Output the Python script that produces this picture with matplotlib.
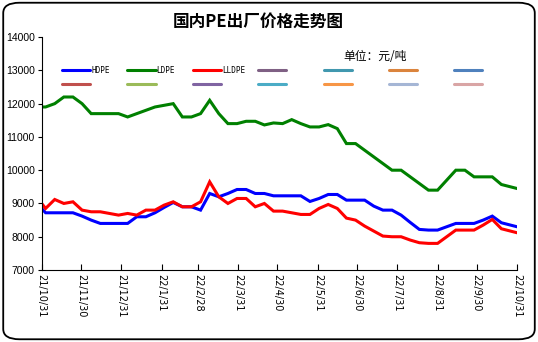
import pandas as pd
import numpy as np
import matplotlib
matplotlib.use('Agg')
import matplotlib.pyplot as plt
from matplotlib.patches import FancyBboxPatch

plt.rcParams['font.family'] = ['Noto Sans CJK SC', 'DejaVu Sans']

# price dates (roughly weekly)
dates = ['2021-10-31', '2021-11-03', '2021-11-10', '2021-11-17', '2021-11-24',
         '2021-12-01', '2021-12-08', '2021-12-15', '2021-12-22', '2021-12-29',
         '2022-01-05', '2022-01-12', '2022-01-19', '2022-01-26',
         '2022-02-02', '2022-02-09', '2022-02-16', '2022-02-23',
         '2022-03-02', '2022-03-09', '2022-03-16', '2022-03-23', '2022-03-30',
         '2022-04-06', '2022-04-13', '2022-04-20', '2022-04-27',
         '2022-05-04', '2022-05-11', '2022-05-18', '2022-05-25',
         '2022-06-01', '2022-06-08', '2022-06-15', '2022-06-22', '2022-06-29',
         '2022-07-06', '2022-07-13', '2022-07-20', '2022-07-27',
         '2022-08-03', '2022-08-10', '2022-08-17', '2022-08-24', '2022-08-31',
         '2022-09-07', '2022-09-14', '2022-09-21', '2022-09-28',
         '2022-10-05', '2022-10-12', '2022-10-19', '2022-10-26', '2022-10-31']

hdpe = [8850, 8720, 8720, 8720, 8720, 8620, 8500, 8400, 8400, 8400,
        8400, 8600, 8600, 8720, 8880, 9030, 8900, 8900, 8800, 9300,
        9200, 9300, 9420, 9420, 9300, 9300, 9230, 9230, 9230, 9230,
        9060, 9150, 9270, 9270, 9100, 9100, 9100, 8920, 8800, 8800,
        8650, 8430, 8220, 8200, 8200, 8300, 8400, 8400, 8400, 8500,
        8620, 8420, 8350, 8300]

ldpe = [11900, 11900, 12000, 12200, 12200, 12000, 11700, 11700, 11700, 11700,
        11600, 11700, 11800, 11900, 11950, 12000, 11600, 11600, 11700, 12100,
        11700, 11400, 11400, 11470, 11470, 11360, 11420, 11400, 11520, 11400,
        11300, 11300, 11370, 11250, 10800, 10800, 10600, 10400, 10200, 10000,
        10000, 9800, 9600, 9400, 9400, 9700, 10000, 10000, 9800, 9800,
        9800, 9570, 9500, 9450]

lldpe = [9000, 8850, 9120, 9000, 9050, 8800, 8750, 8750, 8700, 8650,
         8700, 8650, 8800, 8800, 8950, 9050, 8900, 8900, 9050, 9650,
         9200, 9000, 9150, 9150, 8900, 9000, 8770, 8770, 8720, 8670,
         8670, 8850, 8970, 8850, 8560, 8500, 8320, 8170, 8020, 8000,
         8000, 7900, 7820, 7800, 7800, 8000, 8200, 8200, 8200, 8350,
         8520, 8240, 8170, 8120]

tick_labels = ['21/10/31', '21/11/30', '21/12/31', '22/1/31', '22/2/28', '22/3/31',
               '22/4/30', '22/5/31', '22/6/30', '22/7/31', '22/8/31', '22/9/30', '22/10/31']

series_names = ['HDPE', 'LDPE', 'LLDPE']
series_colors = ['#0000FF', '#008000', '#FF0000']
# empty legend entries left over in the source sheet
extra_row1 = ['#7F6084', '#4198AF', '#DB843D', '#4F81BD']
extra_row2 = ['#C0504D', '#9BBB59', '#8064A2', '#4BACC6', '#F79646', '#A5B6D5', '#D9A5A5']

x = pd.to_datetime(dates)
ticks = pd.to_datetime(['20' + t for t in tick_labels], format='%Y/%m/%d')

fig = plt.figure(figsize=(5.38, 3.42), dpi=100)
ax = fig.add_axes([0.0775, 0.2105, 0.8835, 0.681])

for vals, c in zip([hdpe, ldpe, lldpe], series_colors):
    ax.plot(x, vals, color=c, lw=2.2, solid_joinstyle='miter')

ax.set_xlim(ticks[0], ticks[-1])
ax.set_ylim(7000, 14000)
ax.set_yticks(np.arange(7000, 14001, 1000))
ax.set_xticks(ticks)
ax.set_xticklabels(tick_labels, rotation=-90, fontsize=7, family='DejaVu Sans')
ax.tick_params(axis='y', direction='out', length=3, labelsize=7.5, pad=2)
ax.tick_params(axis='x', direction='in', length=4, pad=3)
for lab in ax.get_yticklabels():
    lab.set_family('Liberation Sans')
ax.spines['top'].set_visible(False)
ax.spines['right'].set_visible(False)

# legend, two rows of seven evenly spaced entries
step = 0.1375
hl = 0.059
x0 = 0.043
row1 = list(zip(series_colors, series_names)) + [(c, '') for c in extra_row1]
row2 = [(c, '') for c in extra_row2]
for ry, row in zip([0.858, 0.800], [row1, row2]):
    for i, (c, name) in enumerate(row):
        lx = x0 + i * step
        ax.plot([lx, lx + hl], [ry, ry], color=c, lw=2.2, transform=ax.transAxes,
                solid_capstyle='round', clip_on=False)
        if name:
            ax.text(lx + hl + 0.002, ry, name, transform=ax.transAxes, fontsize=5.5,
                    va='center', ha='left', family='DejaVu Sans Mono')

ax.text(0.635, 0.915, '单位：元/吨', transform=ax.transAxes, fontsize=8.5,
        ha='left', va='center')

fig.text(0.48, 0.937, '国内PE出厂价格走势图', fontsize=12, fontweight='bold',
         ha='center', va='center')

border = FancyBboxPatch((0.006, 0.008), 0.988, 0.984, boxstyle='round,pad=0,rounding_size=0.03',
                        transform=fig.transFigure, fill=False, ec='black', lw=1.3)
fig.patches.append(border)

plt.savefig('out.png', dpi=100)
